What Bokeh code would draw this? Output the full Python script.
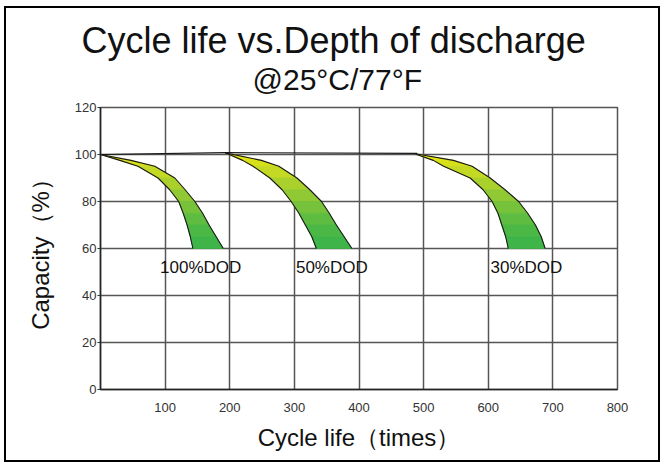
from bokeh.plotting import figure
from bokeh.models import FixedTicker, Range1d, Title
from bokeh.core.properties import value
from bokeh.embed import file_html
from bokeh.resources import INLINE

# ---- data ----
x_ticks = [0, 100, 200, 300, 400, 500, 600, 700, 800]
y_ticks = [0, 20, 40, 60, 80, 100, 120]

dod100_y = [100, 97.5, 95, 90, 85, 80, 75, 70, 65, 60]
dod100_outer = [0, 47, 84, 115, 131, 146, 158, 168, 179, 190]
dod100_inner = [0, 30, 58, 89, 107, 121, 128, 134, 139, 143]

dod50_y = [100.7, 97.5, 95, 90, 85, 80, 75, 70, 65, 60]
dod50_outer = [193, 249, 276, 304, 324, 342, 354, 365, 377, 389]
dod50_inner = [193, 220, 236, 262, 281, 295, 307, 317, 327, 334]

dod30_y = [100.4, 97.5, 95, 90, 85, 80, 75, 70, 65, 60]
dod30_outer = [485, 546, 575, 603, 626, 647, 661, 673, 682, 688]
dod30_inner = [485, 515, 531, 572, 592, 606, 615, 621, 627, 631]

link_x = [0, 195, 490]
link_y = [100, 100.8, 100.5]

dod_names = ["100%DOD", "50%DOD", "30%DOD"]
dod_label_x = [155, 358, 659]
dod_label_y = [52, 52, 52]

strip_colors = ["#e6e612", "#d8e01a", "#c4d924", "#aad02c", "#90c934",
                "#76c23a", "#5ebc40", "#4bb745", "#3eb449"]

FONT = "Liberation Sans"

p = figure(width=656, height=456, output_backend="svg", toolbar_location=None,
           x_range=Range1d(0, 800), y_range=Range1d(0, 120),
           min_border_left=94, min_border_right=45,
           min_border_top=99, min_border_bottom=75)

p.styles = {"border": "2px solid black", "margin-left": "4px", "margin-top": "6px"}

p.background_fill_color = "white"
p.border_fill_color = "white"
p.outline_line_color = "#555555"
p.outline_line_width = 1.5

p.xaxis.ticker = FixedTicker(ticks=x_ticks)
p.yaxis.ticker = FixedTicker(ticks=y_ticks)
p.xaxis.major_label_overrides = {0: ""}
p.xgrid.ticker = FixedTicker(ticks=x_ticks)
p.ygrid.ticker = FixedTicker(ticks=y_ticks)
for g in (p.xgrid, p.ygrid):
    g.grid_line_color = "#555555"
    g.grid_line_width = 1.5
    g.grid_line_alpha = 1.0

for ax in (p.xaxis, p.yaxis):
    ax.axis_line_color = "#222222"
    ax.axis_line_width = 1.5
    ax.minor_tick_line_color = None
    ax.major_label_text_font = FONT
    ax.major_label_text_font_size = "13px"
    ax.major_label_text_color = "#333333"
    ax.axis_label_text_font = FONT
    ax.axis_label_text_font_size = "24px"
    ax.axis_label_text_font_style = "normal"
    ax.axis_label_text_color = "#111111"

p.xaxis.major_tick_line_color = None
p.xaxis.major_label_standoff = 7
p.xaxis.axis_label = "Cycle life（times）"
p.xaxis.axis_label_standoff = 9

p.yaxis.major_tick_in = 0
p.yaxis.major_tick_out = 3
p.yaxis.major_tick_line_color = "#333333"
p.yaxis.major_label_standoff = 1
p.yaxis.axis_label = "Capacity（%）"
p.yaxis.axis_label_standoff = 18

# ---- bands ----
def draw_band(ys, inner, outer):
    xs_list, ys_list = [], []
    for i in range(len(ys) - 1):
        xs_list.append([inner[i], outer[i], outer[i + 1], inner[i + 1]])
        ys_list.append([ys[i], ys[i], ys[i + 1], ys[i + 1]])
    p.patches(xs_list, ys_list, fill_color=strip_colors, line_color=strip_colors,
              line_width=0.8)
    p.line(outer, ys, line_color="#1a1a1a", line_width=1.1)
    p.line(inner, ys, line_color="#1a1a1a", line_width=1.1)

draw_band(dod100_y, dod100_inner, dod100_outer)
draw_band(dod50_y, dod50_inner, dod50_outer)
draw_band(dod30_y, dod30_inner, dod30_outer)

p.line(link_x, link_y, line_color="#1a1a1a", line_width=1.1)

p.text(x=dod_label_x, y=dod_label_y, text=dod_names,
       text_font=value(FONT), text_font_size="17px", text_color="#111111",
       text_align="center", text_baseline="middle")

# ---- titles (first added sits closest to the frame) ----
# blank spacer panel between the frame and the subtitle
p.add_layout(Title(text=" ", standoff=5, text_font_size="1px"), "above")
p.add_layout(Title(text="@25°C/77°F", align="left", offset=152, standoff=4,
                   vertical_align="top",
                   text_font=FONT, text_font_size="30px", text_font_style="normal",
                   text_color="#111111"), "above")
p.add_layout(Title(text="Cycle life vs.Depth of discharge", align="left", offset=-19,
                   standoff=0, text_font=FONT, text_font_size="36px",
                   text_font_style="normal", text_color="#111111"), "above")

open("out.html", "w").write(file_html(p, INLINE))
